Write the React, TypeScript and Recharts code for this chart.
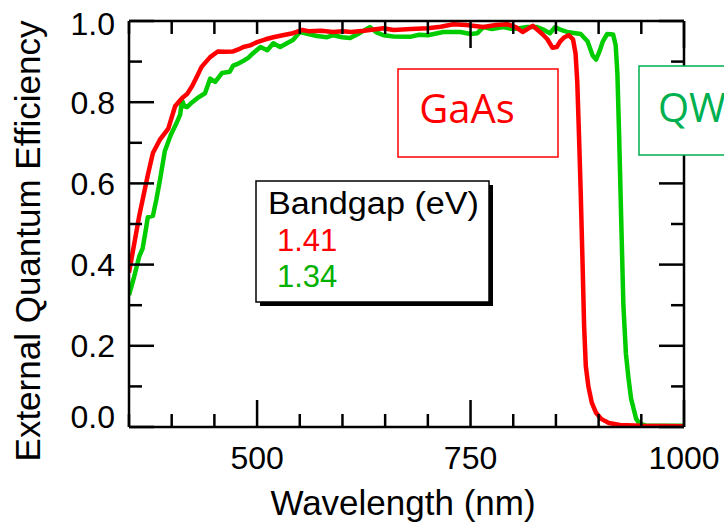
import React from 'react'
import { LineChart, Line, XAxis, YAxis } from 'recharts'

// GaAs cell (red)
const GAAS_NM = [
  350, 356, 362, 367, 372, 378, 386, 396, 404, 412, 418, 424, 430, 435, 445, 454, 462, 472, 478, 484,
  492, 500, 510, 519, 530, 542, 553, 560, 575, 589, 600, 610, 625, 648, 660, 680, 700, 715, 730, 745,
  765, 780, 793, 803, 811, 818, 823, 834, 840, 846, 851, 855, 860, 865, 870, 873, 875, 877, 879, 881,
  883, 885, 888, 892, 897, 903, 912, 925, 950, 1000,
]
const GAAS_EQE = [
  0.38, 0.45, 0.52, 0.57, 0.62, 0.675, 0.707, 0.735, 0.79, 0.81, 0.82, 0.84, 0.865, 0.887, 0.911, 0.925, 0.924, 0.925, 0.93, 0.936,
  0.94, 0.948, 0.955, 0.96, 0.965, 0.97, 0.978, 0.975, 0.976, 0.973, 0.975, 0.973, 0.976, 0.982, 0.978, 0.98, 0.982, 0.986, 0.992, 0.99,
  0.985, 0.99, 0.992, 0.985, 0.973, 0.982, 0.988, 0.968, 0.955, 0.934, 0.936, 0.95, 0.96, 0.965, 0.955, 0.92, 0.85, 0.72, 0.58, 0.42,
  0.25, 0.15, 0.1, 0.06, 0.035, 0.02, 0.01, 0.005, 0.003, 0.002,
]

// quantum well cell (green)
const QW_NM = [
  350, 356, 362, 366, 370, 372, 378, 382, 386, 392, 399, 406, 410, 412, 415, 418, 424, 430, 439, 445,
  451, 459, 468, 472, 478, 484, 490, 495, 504, 512, 519, 527, 535, 542, 550, 560, 570, 582, 589, 600,
  609, 620, 632, 640, 648, 660, 679, 690, 700, 718, 738, 750, 758, 765, 775, 788, 800, 816, 828, 836,
  843, 849, 856, 863, 879, 887, 893, 897, 901, 905, 910, 917, 920, 922, 924, 926, 929, 932, 935, 938,
  941, 944, 948, 955, 1000,
]
const QW_EQE = [
  0.325, 0.37, 0.42, 0.44, 0.49, 0.517, 0.52, 0.56, 0.605, 0.68, 0.72, 0.75, 0.77, 0.805, 0.79, 0.788, 0.8, 0.81, 0.822, 0.858,
  0.85, 0.872, 0.875, 0.89, 0.895, 0.902, 0.91, 0.92, 0.936, 0.928, 0.945, 0.936, 0.945, 0.953, 0.973, 0.968, 0.963, 0.96, 0.965, 0.96,
  0.958, 0.97, 0.985, 0.972, 0.965, 0.962, 0.961, 0.966, 0.965, 0.973, 0.973, 0.968, 0.97, 0.985, 0.98, 0.985, 0.98, 0.985, 0.985, 0.978,
  0.97, 0.985, 0.978, 0.973, 0.968, 0.95, 0.915, 0.905, 0.925, 0.95, 0.968, 0.967, 0.94, 0.87, 0.72, 0.55, 0.3, 0.18, 0.12, 0.07,
  0.045, 0.02, 0.008, 0.004, 0.003,
]

const X_TICKS = [350, 400, 450, 500, 550, 600, 650, 700, 750, 800, 850, 900, 950, 1000]
const X_LABELS = [500, 750, 1000]
const X_MAJOR_BOTTOM = [500, 750, 1000]
const X_MAJOR_TOP = [750, 1000]
const Y_TICKS = [0, 0.1, 0.2, 0.3, 0.4, 0.5, 0.6, 0.7, 0.8, 0.9, 1.0]
const Y_LABELS = [0, 0.2, 0.4, 0.6, 0.8, 1.0]

const gaasData = GAAS_NM.map((nm, i) => ({ nm, eqe: GAAS_EQE[i] }))
const qwData = QW_NM.map((nm, i) => ({ nm, eqe: QW_EQE[i] }))

// plot box in page pixels
const PL = 129
const PT = 21
const PR = 684
const PB = 427

const FONT = '"Liberation Sans", Arial, Helvetica, sans-serif'
const TICK_W = 2.5
const AXIS_LINE = { stroke: '#000', strokeWidth: TICK_W }

const BottomTick = (props: any) => {
  const { x, payload } = props
  const v = payload.value
  const len = X_MAJOR_BOTTOM.includes(v) ? 27 : 13
  return (
    <g>
      <line x1={x} x2={x} y1={PB} y2={PB - len} stroke="#000" strokeWidth={TICK_W} />
      {X_LABELS.includes(v) && (
        <text x={x} y={PB + 42} textAnchor="middle" fontSize={32} fontFamily={FONT} fill="#000">{v}</text>
      )}
    </g>
  )
}

const TopTick = (props: any) => {
  const { x, payload } = props
  const len = X_MAJOR_TOP.includes(payload.value) ? 27 : 13
  return <line x1={x} x2={x} y1={PT} y2={PT + len} stroke="#000" strokeWidth={TICK_W} />
}

const LeftTick = (props: any) => {
  const { y, payload } = props
  const v = payload.value
  const major = Y_LABELS.some((l) => Math.abs(l - v) < 1e-6)
  // end labels are pulled inside the axis range
  let base = y + 11.5
  if (v === 0) base = PB + 1
  if (v === 1) base = PT + 14
  return (
    <g>
      <line x1={PL} x2={PL + (major ? 25 : 13)} y1={y} y2={y} stroke="#000" strokeWidth={TICK_W} />
      {major && (
        <text x={PL - 14} y={base} textAnchor="end" fontSize={32} fontFamily={FONT} fill="#000">{v.toFixed(1)}</text>
      )}
    </g>
  )
}

const RightTick = (props: any) => {
  const { y, payload } = props
  const major = Y_LABELS.some((l) => Math.abs(l - payload.value) < 1e-6)
  return <line x1={PR} x2={PR - (major ? 25 : 13)} y1={y} y2={y} stroke="#000" strokeWidth={TICK_W} />
}

export default function App() {
  return (
    <div style={{ position: 'absolute', left: 0, top: 0, width: 724, height: 525, overflow: 'hidden', background: '#fff' }}>
      <LineChart width={724} height={525} margin={{ top: PT - 1, right: 724 - PR - 1, bottom: 525 - PB - 1, left: PL - 1 }}>
        <XAxis xAxisId="b" dataKey="nm" type="number" domain={[350, 1000]} ticks={X_TICKS} interval={0}
          height={1} tickLine={false} tick={<BottomTick />} axisLine={AXIS_LINE} allowDataOverflow />
        <XAxis xAxisId="t" dataKey="nm" type="number" orientation="top" domain={[350, 1000]} ticks={X_TICKS} interval={0}
          height={1} tickLine={false} tick={<TopTick />} axisLine={AXIS_LINE} allowDataOverflow />
        <YAxis yAxisId="l" type="number" domain={[0, 1]} ticks={Y_TICKS} interval={0} width={1}
          tickLine={false} tick={<LeftTick />} axisLine={AXIS_LINE} allowDataOverflow />
        <YAxis yAxisId="r" type="number" orientation="right" domain={[0, 1]} ticks={Y_TICKS} interval={0} width={1}
          tickLine={false} tick={<RightTick />} axisLine={AXIS_LINE} allowDataOverflow />
        <Line xAxisId="b" yAxisId="l" data={qwData} dataKey="eqe" type="linear" stroke="#00cc00" strokeWidth={4.5}
          dot={false} isAnimationActive={false} strokeLinejoin="round" />
        <Line xAxisId="t" yAxisId="r" data={gaasData} dataKey="eqe" type="linear" stroke="#ff0000" strokeWidth={4.5}
          dot={false} isAnimationActive={false} strokeLinejoin="round" />
      </LineChart>

      {/* annotations */}
      <svg width={724} height={525} style={{ position: 'absolute', left: 0, top: 0, pointerEvents: 'none' }}>
        <text transform="translate(40,241) rotate(-90)" textAnchor="middle" fontSize={35} fontFamily={FONT} fill="#000">
          External Quantum Efficiency
        </text>
        <text x={403} y={515} textAnchor="middle" fontSize={35} fontFamily={FONT} fill="#000">Wavelength (nm)</text>

        <rect x={398} y={69} width={160} height={88} fill="#fff" stroke="#ff0000" strokeWidth={1.5} />
        <text x={467} y={123} textAnchor="middle" fontSize={40} fontFamily='"Open Sans", sans-serif' fill="#ff0000">GaAs</text>

        <rect x={639} y={66} width={130} height={89} fill="#fff" stroke="#00b050" strokeWidth={1.5} />
        <text x={658} y={122} fontSize={40} fontFamily='"Open Sans", sans-serif' fill="#00b050">QW</text>

        <rect x={260} y={185} width={233} height={121} fill="#000" />
        <rect x={256} y={181} width={233} height={121} fill="#fff" stroke="#000" strokeWidth={1.5} />
        <text x={268} y={214} fontSize={31} fontFamily={FONT} fill="#000" textLength={211} lengthAdjust="spacingAndGlyphs">Bandgap (eV)</text>
        <text x={277} y={251} fontSize={31} fontFamily={FONT} fill="#ff0000">1.41</text>
        <text x={277} y={287} fontSize={31} fontFamily={FONT} fill="#00b000">1.34</text>
      </svg>
    </div>
  )
}
